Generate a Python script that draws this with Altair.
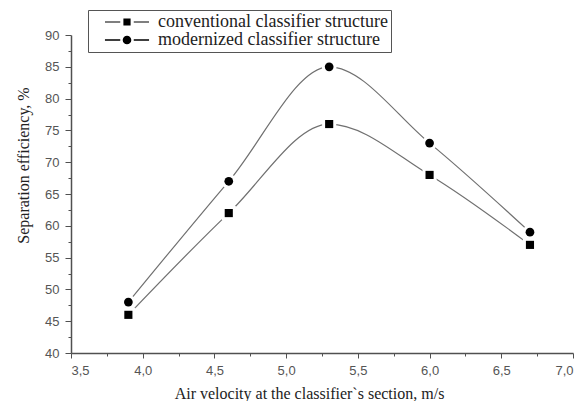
import altair as alt
import pandas as pd

velocity = [3.9, 4.6, 5.3, 6.0, 6.7]
conventional = [46, 62, 76, 68, 57]
modernized = [48, 67, 85, 73, 59]
series_names = ["conventional classifier structure", "modernized classifier structure"]

rows = []
for v, c, m in zip(velocity, conventional, modernized):
    rows.append({"v": v, "eff": c, "series": series_names[0]})
    rows.append({"v": v, "eff": m, "series": series_names[1]})
df = pd.DataFrame(rows)

x_vals = [3.5 + 0.25 * i for i in range(15)]
y_vals = [40 + 2.5 * i for i in range(21)]

x_enc = alt.X(
    "v:Q",
    scale=alt.Scale(domain=[3.5, 7.0], nice=False, zero=False),
    axis=alt.Axis(
        title="Air velocity at the classifier`s section, m/s",
        values=x_vals,
        labelExpr="abs(datum.value*2 - round(datum.value*2)) < 0.001 ? replace(format(datum.value, '.1f'), '.', ',') : ''",
        tickSize={"condition": {"test": "abs(datum.value*2 - round(datum.value*2)) < 0.001", "value": 5}, "value": 3},
        grid=False,
        labelOverlap=False,
        titleX=238,
        labelPadding=6,
        titlePadding=8,
    ),
)
y_enc = alt.Y(
    "eff:Q",
    scale=alt.Scale(domain=[40, 90], nice=False, zero=False),
    axis=alt.Axis(
        title="Separation efficiency, %",
        values=y_vals,
        labelExpr="abs(datum.value/5 - round(datum.value/5)) < 0.001 ? format(datum.value, 'd') : ''",
        tickSize={"condition": {"test": "abs(datum.value/5 - round(datum.value/5)) < 0.001", "value": 6}, "value": 3},
        grid=False,
        labelOverlap=False,
        titleY=130,
        labelPadding=6,
        titlePadding=13,
    ),
)

base = alt.Chart(df)
lines = base.mark_line(interpolate="monotone", color="#707070", strokeWidth=1.2).encode(
    x=x_enc, y=y_enc, detail="series:N"
)
conv = base.transform_filter(alt.datum.series == series_names[0])
mod = base.transform_filter(alt.datum.series == series_names[1])

halo_sq = conv.mark_square(color="white", opacity=1, size=200).encode(x=x_enc, y=y_enc)
halo_ci = mod.mark_circle(color="white", opacity=1, size=220).encode(x=x_enc, y=y_enc)
pts_sq = conv.mark_square(color="black", opacity=1, size=66).encode(x=x_enc, y=y_enc)
pts_ci = mod.mark_circle(color="black", opacity=1, size=76).encode(x=x_enc, y=y_enc)

sq_path = (
    "M-2.45,-0.06H-0.75V0.06H-2.45Z"
    "M0.75,-0.06H2.45V0.06H0.75Z"
    "M-0.4,-0.4H0.4V0.4H-0.4Z"
)
ci_path = (
    "M-2.45,-0.07H-0.75V0.07H-2.45Z"
    "M0.75,-0.07H2.45V0.07H0.75Z"
    "M0.48,0A0.48,0.48 0 1,1 -0.48,0A0.48,0.48 0 1,1 0.48,0Z"
)

legend_layer = base.mark_point(filled=True, opacity=0, color="black").encode(
    x=x_enc,
    y=y_enc,
    shape=alt.Shape(
        "series:N",
        scale=alt.Scale(domain=series_names, range=[sq_path, ci_path]),
        legend=alt.Legend(
            title=None,
            orient="none",
            legendX=17,
            legendY=-25,
            strokeColor="#555555",
            fillColor="white",
            padding=3,
            labelFont="Liberation Serif",
            labelFontSize=18,
            labelColor="#222222",
            labelOffset=22,
            labelLimit=400,
            rowPadding=-3,
            symbolSize=324,
            symbolOffset=27,
            symbolFillColor="#111111",
            symbolStrokeWidth=0,
            symbolOpacity=1,
        ),
    ),
)

chart = (
    alt.layer(lines, halo_sq, halo_ci, pts_sq, pts_ci, legend_layer)
    .properties(
        width=502,
        height=318,
        background="white",
        padding={"left": 7, "top": 1, "right": 0, "bottom": 0},
    )
    .configure(font="Liberation Serif")
    .configure_view(stroke=None)
    .configure_axis(
        domainColor="#505050",
        domainWidth=1.5,
        tickColor="#505050",
        tickWidth=1,
        labelFont="Liberation Sans",
        labelFontSize=13,
        labelColor="#555555",
        titleFont="Liberation Serif",
        titleFontSize=16,
        titleFontWeight="normal",
        titleColor="#222222",
    )
    .configure_legend(labelFont="Liberation Serif", labelFontSize=18)
)

chart.save("out.html", embed_options={"renderer": "svg", "actions": False})
